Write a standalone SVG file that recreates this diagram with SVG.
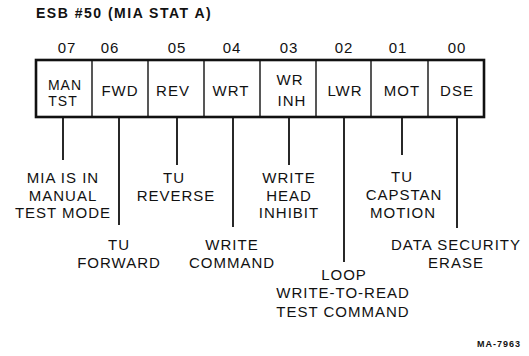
<svg xmlns="http://www.w3.org/2000/svg" width="529" height="356" viewBox="0 0 529 356">
<style>
text{font-family:"Liberation Sans",Arial,sans-serif;fill:#111;}
.t{font-size:15px;letter-spacing:1px;text-anchor:middle;}
.s{font-size:14px;}
.title{font-size:14px;font-weight:bold;letter-spacing:1.5px;}
.ref{font-size:9px;font-weight:bold;letter-spacing:1px;text-anchor:end;}
.outer{fill:#fff;stroke:#111;stroke-width:2.6;}
.div{stroke:#111;stroke-width:1.4;}
.lead{stroke:#111;stroke-width:1.8;fill:none;}
</style>
<rect width="529" height="356" fill="#fff"/>
<g id="title"><text class="title" x="36" y="18">ESB #50 (MIA STAT A)</text></g>
<g id="register">
<rect class="outer" x="36" y="60" width="448" height="57"/>
<line class="div" x1="92" y1="60" x2="92" y2="117"/>
<line class="div" x1="148" y1="60" x2="148" y2="117"/>
<line class="div" x1="204" y1="60" x2="204" y2="117"/>
<line class="div" x1="260" y1="60" x2="260" y2="117"/>
<line class="div" x1="316" y1="60" x2="316" y2="117"/>
<line class="div" x1="371" y1="60" x2="371" y2="117"/>
<line class="div" x1="428" y1="60" x2="428" y2="117"/>
</g>
<g id="bit07"><text class="t" x="67" y="53">07</text><text class="t s" x="65" y="90">MAN</text><text class="t s" x="63" y="106">TST</text></g>
<g id="bit06"><text class="t" x="110" y="53">06</text><text class="t" x="120" y="96">FWD</text></g>
<g id="bit05"><text class="t" x="177" y="53">05</text><text class="t" x="173" y="96">REV</text></g>
<g id="bit04"><text class="t" x="232" y="53">04</text><text class="t" x="231" y="96">WRT</text></g>
<g id="bit03"><text class="t" x="289" y="53">03</text><text class="t" x="290" y="85">WR</text><text class="t" x="292" y="106">INH</text></g>
<g id="bit02"><text class="t" x="344" y="53">02</text><text class="t" x="345" y="96">LWR</text></g>
<g id="bit01"><text class="t" x="398" y="53">01</text><text class="t" x="402" y="96">MOT</text></g>
<g id="bit00"><text class="t" x="457" y="53">00</text><text class="t" x="457" y="96">DSE</text></g>
<g id="connectors">
<line class="lead" x1="63" y1="117" x2="63" y2="160"/>
<line class="lead" x1="119" y1="117" x2="119" y2="225"/>
<line class="lead" x1="177" y1="117" x2="177" y2="165"/>
<line class="lead" x1="233" y1="117" x2="233" y2="227"/>
<line class="lead" x1="289" y1="117" x2="289" y2="165"/>
<line class="lead" x1="344" y1="117" x2="344" y2="262"/>
<line class="lead" x1="402" y1="117" x2="402" y2="155"/>
<line class="lead" x1="457" y1="117" x2="457" y2="228"/>
</g>
<g id="desc07"><text class="t" x="63" y="183">MIA IS IN</text><text class="t" x="63" y="201">MANUAL</text><text class="t" x="63" y="218">TEST MODE</text></g>
<g id="desc06"><text class="t" x="119" y="250">TU</text><text class="t" x="119" y="268">FORWARD</text></g>
<g id="desc05"><text class="t" x="174" y="183">TU</text><text class="t" x="176" y="201">REVERSE</text></g>
<g id="desc04"><text class="t" x="232" y="250">WRITE</text><text class="t" x="232" y="268">COMMAND</text></g>
<g id="desc03"><text class="t" x="289" y="183">WRITE</text><text class="t" x="289" y="201">HEAD</text><text class="t" x="289" y="218">INHIBIT</text></g>
<g id="desc02"><text class="t" x="344" y="280">LOOP</text><text class="t" x="343" y="298">WRITE-TO-READ</text><text class="t" x="343" y="317">TEST COMMAND</text></g>
<g id="desc01"><text class="t" x="402" y="182">TU</text><text class="t" x="404" y="200">CAPSTAN</text><text class="t" x="403" y="218">MOTION</text></g>
<g id="desc00"><text class="t" x="456" y="250">DATA SECURITY</text><text class="t" x="456" y="268">ERASE</text></g>
<g id="ref"><text class="ref" x="521" y="347">MA-7963</text></g>
</svg>
